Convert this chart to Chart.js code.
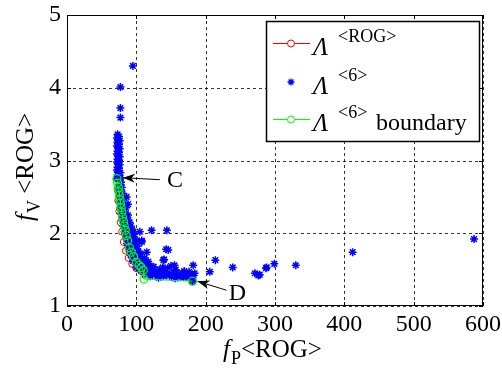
<!DOCTYPE html>
<html><head><meta charset="utf-8">
<script src="https://cdn.jsdelivr.net/npm/chart.js@4"></script>
<style>html,body{margin:0;padding:0;background:#fff}canvas{display:block}</style>
</head><body>
<canvas id="c" width="502" height="369"></canvas>
<script>
// ---- data ----
const xTicks = [0, 100, 200, 300, 400, 500, 600];
const yTicks = [1, 2, 3, 4, 5];

// Λ<ROG> curve
const rogX = [72, 73, 74, 75.5, 77.5, 79.5, 82, 85, 89, 94, 100, 107, 114, 122, 135, 148, 160, 172, 181];
const rogY = [2.75, 2.60, 2.45, 2.30, 2.15, 2.02, 1.88, 1.76, 1.66, 1.58, 1.52, 1.48, 1.46, 1.44, 1.46, 1.47, 1.44, 1.40, 1.34];

// Λ<6> boundary
const bndX = [72, 73, 74, 75, 75.5, 76.5, 77, 78, 79, 80, 81.5, 82.5, 84, 85.5, 87.5, 90, 92.5, 96, 100, 104, 107, 110, 111, 181];
const bndY = [2.75, 2.69, 2.63, 2.57, 2.52, 2.46, 2.41, 2.35, 2.29, 2.22, 2.16, 2.10, 2.04, 1.97, 1.90, 1.80, 1.74, 1.68, 1.60, 1.56, 1.53, 1.49, 1.37, 1.34];

// Λ<6> set (scatter)
const set6Points = [
  [95,4.30],[77,4.01],[77,3.72],[77,3.59],
  [73,3.36],[75,3.33],[72,3.31],[74,3.29],[76,3.27],[73,3.25],[75,3.22],[72,3.20],[74,3.18],[76,3.16],
  [73,3.13],[75,3.11],[72,3.09],[74,3.07],[76,3.05],[73,3.02],[75,3.00],[72,2.98],[74,2.96],[76,2.94],
  [73,2.91],[75,2.89],[72,2.87],[74,2.85],[77,2.83],[73,2.80],[75,2.78],[77,2.76],[74,2.74],[76,2.72],
  [78,2.70],[75,2.67],[77,2.65],[79,2.63],[74,2.61],[76,2.59],[78,2.57],[80,2.55],[75,2.52],[77,2.50],
  [79,2.48],[81,2.46],[76,2.44],[78,2.42],[80,2.40],[82,2.38],[77,2.35],[79,2.33],[81,2.31],[83,2.29],
  [78,2.27],[80,2.25],[82,2.23],[84,2.21],[80,2.18],[82,2.16],[84,2.14],[86,2.12],[81,2.10],[83,2.08],
  [85,2.06],[88,2.04],[83,2.02],[85,2.00],[87,1.98],[90,1.96],[85,1.94],[87,1.92],[89,1.90],[92,1.88],
  [87,1.86],[89,1.84],[91,1.82],[94,1.80],[89,1.78],[91,1.76],[94,1.74],[97,1.72],[92,1.70],[95,1.68],
  [98,1.66],[101,1.64],[95,1.62],[98,1.60],[101,1.58],[104,1.56],[108,1.55],[100,1.53],[105,1.52],
  [110,1.51],[113,1.50],[107,1.49],
  [85,2.35],[88,2.40],[88,2.25],[90,2.15],[94,2.05],[97,1.95],[102,1.82],[106,1.72],[112,1.66],[118,1.58],
  [86,2.50],[88.5,2.18],[92,2.10],[96,2.02],[93,2.00],[95,1.95],[100.6,1.90],[98,1.85],[103,1.75],
  [106,1.68],[110,1.62],[114,1.57],[105,2.02],[122,2.04],[144,2.04],[108,1.88],[107.8,1.90],[115,1.74],
  [146,1.77],[143,1.78],[139,1.63],[140,1.64],[117,1.61],[122,1.52],[155,1.56],[182,1.56],[182,1.42],
  [115,1.47],[118,1.50],[121,1.45],[124,1.48],[127,1.43],[130,1.46],[133,1.50],[136,1.44],[139,1.41],
  [142,1.47],[145,1.52],[148,1.44],[151,1.40],[154,1.46],[157,1.50],[160,1.43],[163,1.40],[166,1.45],
  [169,1.48],[172,1.42],[175,1.40],[178,1.44],[181,1.38],[184,1.45],[150,1.55],[138,1.53],[125,1.54],
  [112,1.43],[120,1.41],[132,1.39],[144,1.42],[156,1.38],[168,1.40],[176,1.47],[181,1.34],[72,2.75],
  [206,1.47],[214,1.63],[239,1.53],[271,1.45],[276,1.42],[278,1.43],[287,1.52],[288,1.53],[299,1.58],
  [330,1.56],[412,1.74],[587,1.92]
];

// annotations
const noteC = {text: 'C', x: 72, y: 2.75};
const noteD = {text: 'D', x: 181, y: 1.34};

const FONT = '"Liberation Serif", "Times New Roman", serif';

function pts(xs, ys) { return xs.map((x, i) => ({x: x, y: ys[i]})); }

const frame = {
  id: 'frame',
  beforeDatasetsDraw(chart) {
    const ctx = chart.ctx, a = chart.chartArea;
    const xs = chart.scales.x, ys = chart.scales.y;
    ctx.save();
    ctx.strokeStyle = 'rgba(0,0,0,0.8)'; ctx.lineWidth = 1; ctx.setLineDash([3, 3]);
    ctx.beginPath();
    xTicks.forEach(v => {
      const p = Math.round(xs.getPixelForValue(v)) + 0.5;
      ctx.moveTo(p, a.bottom); ctx.lineTo(p, a.top);
    });
    yTicks.forEach(v => {
      const p = Math.round(ys.getPixelForValue(v)) + 0.5;
      ctx.moveTo(a.left, p); ctx.lineTo(a.right, p);
    });
    ctx.stroke();
    ctx.restore();
  },
  afterDraw(chart) {
    const ctx = chart.ctx, a = chart.chartArea;
    const xs = chart.scales.x, ys = chart.scales.y;
    ctx.save();
    // box
    ctx.strokeStyle = '#000'; ctx.lineWidth = 1; ctx.setLineDash([]);
    ctx.strokeRect(a.left + 0.5, a.top + 0.5, a.right - a.left - 1, a.bottom - a.top - 1);
    // inward ticks
    ctx.beginPath();
    xTicks.forEach(v => {
      const p = Math.round(xs.getPixelForValue(v)) + 0.5;
      ctx.moveTo(p, a.bottom); ctx.lineTo(p, a.bottom - 4);
      ctx.moveTo(p, a.top); ctx.lineTo(p, a.top + 4);
    });
    yTicks.forEach(v => {
      const p = Math.round(ys.getPixelForValue(v)) + 0.5;
      ctx.moveTo(a.left, p); ctx.lineTo(a.left + 4, p);
      ctx.moveTo(a.right, p); ctx.lineTo(a.right - 4, p);
    });
    ctx.stroke();

    // arrows + labels
    function arrow(x1, y1, x2, y2) {
      ctx.beginPath(); ctx.moveTo(x1, y1); ctx.lineTo(x2, y2); ctx.stroke();
      const ang = Math.atan2(y2 - y1, x2 - x1), L = 12, W = 4.5;
      const bx = x2 - L * Math.cos(ang), by = y2 - L * Math.sin(ang);
      const nx = -Math.sin(ang), ny = Math.cos(ang);
      const mx = x2 - L * 0.7 * Math.cos(ang), my = y2 - L * 0.7 * Math.sin(ang);
      ctx.beginPath();
      ctx.moveTo(x2, y2);
      ctx.lineTo(bx + nx * W, by + ny * W);
      ctx.lineTo(mx, my);
      ctx.lineTo(bx - nx * W, by - ny * W);
      ctx.closePath(); ctx.fill();
    }
    ctx.fillStyle = '#000'; ctx.lineWidth = 1;
    const cx = xs.getPixelForValue(noteC.x), cy = ys.getPixelForValue(noteC.y);
    arrow(cx + 43, cy + 1, cx + 6, cy - 1);
    const dx = xs.getPixelForValue(noteD.x), dy = ys.getPixelForValue(noteD.y);
    arrow(dx + 34, dy + 9, dx + 5, dy);
    ctx.font = '24px ' + FONT; ctx.textAlign = 'center'; ctx.textBaseline = 'alphabetic';
    ctx.fillText(noteC.text, cx + 58, cy + 8);
    ctx.fillText(noteD.text, dx + 45, dy + 19);

    // axis titles
    ctx.textAlign = 'left';
    function title(x, y, main, sub, rest) {
      ctx.font = 'italic 25px ' + FONT; ctx.fillText(main, x, y);
      let w = ctx.measureText(main).width + 1;
      ctx.font = '18px ' + FONT; ctx.fillText(sub, x + w, y + 7);
      w += ctx.measureText(sub).width;
      ctx.font = '25px ' + FONT; ctx.fillText(rest, x + w, y);
    }
    title(223, 357, 'f', 'P', '<ROG>');
    ctx.save(); ctx.translate(33, 221); ctx.rotate(-Math.PI / 2);
    title(0, 0, 'f', 'V', ' <ROG>');
    ctx.restore();

    // legend
    const L = {x: 266, y: 21, w: 213, h: 120};
    ctx.fillStyle = '#fff'; ctx.fillRect(L.x, L.y, L.w, L.h);
    ctx.strokeStyle = '#000'; ctx.lineWidth = 1.5;
    ctx.strokeRect(L.x + 0.5, L.y + 0.5, L.w, L.h);
    const rows = [
      {y: 43, color: '#ff0000', kind: 'line', sup: '<ROG>', rest: ''},
      {y: 82, color: '#0000ff', kind: 'star', sup: '<6>', rest: ''},
      {y: 119, color: '#00ff00', kind: 'line', sup: '<6>', rest: 'boundary'}
    ];
    rows.forEach(r => {
      ctx.strokeStyle = r.color; ctx.lineWidth = 1;
      if (r.kind === 'line') {
        ctx.beginPath(); ctx.moveTo(273, r.y + 0.5); ctx.lineTo(310, r.y + 0.5); ctx.stroke();
        ctx.fillStyle = '#fff';
        ctx.beginPath(); ctx.arc(291, r.y + 0.5, 3.5, 0, Math.PI * 2); ctx.fill(); ctx.stroke();
      } else {
        const s = 3.5;
        ctx.lineWidth = 1.3;
        ctx.beginPath();
        ctx.moveTo(291 - s, r.y); ctx.lineTo(291 + s, r.y);
        ctx.moveTo(291, r.y - s); ctx.lineTo(291, r.y + s);
        ctx.moveTo(291 - s * .7, r.y - s * .7); ctx.lineTo(291 + s * .7, r.y + s * .7);
        ctx.moveTo(291 - s * .7, r.y + s * .7); ctx.lineTo(291 + s * .7, r.y - s * .7);
        ctx.stroke();
      }
      ctx.fillStyle = '#000';
      ctx.font = 'italic 25px ' + FONT; ctx.fillText('\u039B', 313, r.y + 12);
      ctx.font = '18px ' + FONT; ctx.fillText(r.sup, 338, r.y - 1);
      if (r.rest) { ctx.font = '24px ' + FONT; ctx.fillText(r.rest, 376, r.y + 11); }
    });
    ctx.restore();
  }
};

new Chart(document.getElementById('c'), {
  type: 'scatter',
  data: {
    datasets: [
      {label: 'boundary', data: pts(bndX, bndY), showLine: true, borderColor: '#00ff00', backgroundColor: 'rgba(0,0,0,0)',
       pointStyle: 'circle', pointRadius: 4, borderWidth: 1, pointBorderWidth: 1.2, order: 1},
      {label: 'set6', data: set6Points.map(p => ({x: p[0], y: p[1]})), showLine: false, borderColor: '#0000ff',
       backgroundColor: '#0000ff', pointStyle: 'star', pointRadius: 4, pointBorderWidth: 1.5, order: 2},
      {label: 'rog', data: pts(rogX, rogY), showLine: true, borderColor: '#ff0000', backgroundColor: 'rgba(0,0,0,0)',
       pointStyle: 'circle', pointRadius: 3.5, borderWidth: 1, pointBorderWidth: 1, order: 3}
    ]
  },
  options: {
    responsive: false, animation: false,
    layout: {padding: {top: 15, right: 19, left: 0, bottom: 0}},
    plugins: {legend: {display: false}, tooltip: {enabled: false}},
    scales: {
      x: {
        type: 'linear', min: 0, max: 600,
        afterBuildTicks: s => { s.ticks = xTicks.map(v => ({value: v})); },
        afterFit: s => { s.height = 63; s.paddingLeft = 0; s.paddingRight = 0; },
        ticks: {font: {family: FONT, size: 24}, color: '#000', padding: 4, maxRotation: 0, autoSkip: false},
        grid: {display: false, drawTicks: false},
        border: {display: false}
      },
      y: {
        type: 'linear', min: 1, max: 5,
        afterBuildTicks: s => { s.ticks = yTicks.map(v => ({value: v})); },
        afterFit: s => { s.width = 67; s.paddingTop = 0; s.paddingBottom = 0; },
        ticks: {font: {family: FONT, size: 24}, color: '#000', padding: 6, autoSkip: false},
        grid: {display: false, drawTicks: false},
        border: {display: false}
      }
    }
  },
  plugins: [frame]
});
</script>
</body></html>
